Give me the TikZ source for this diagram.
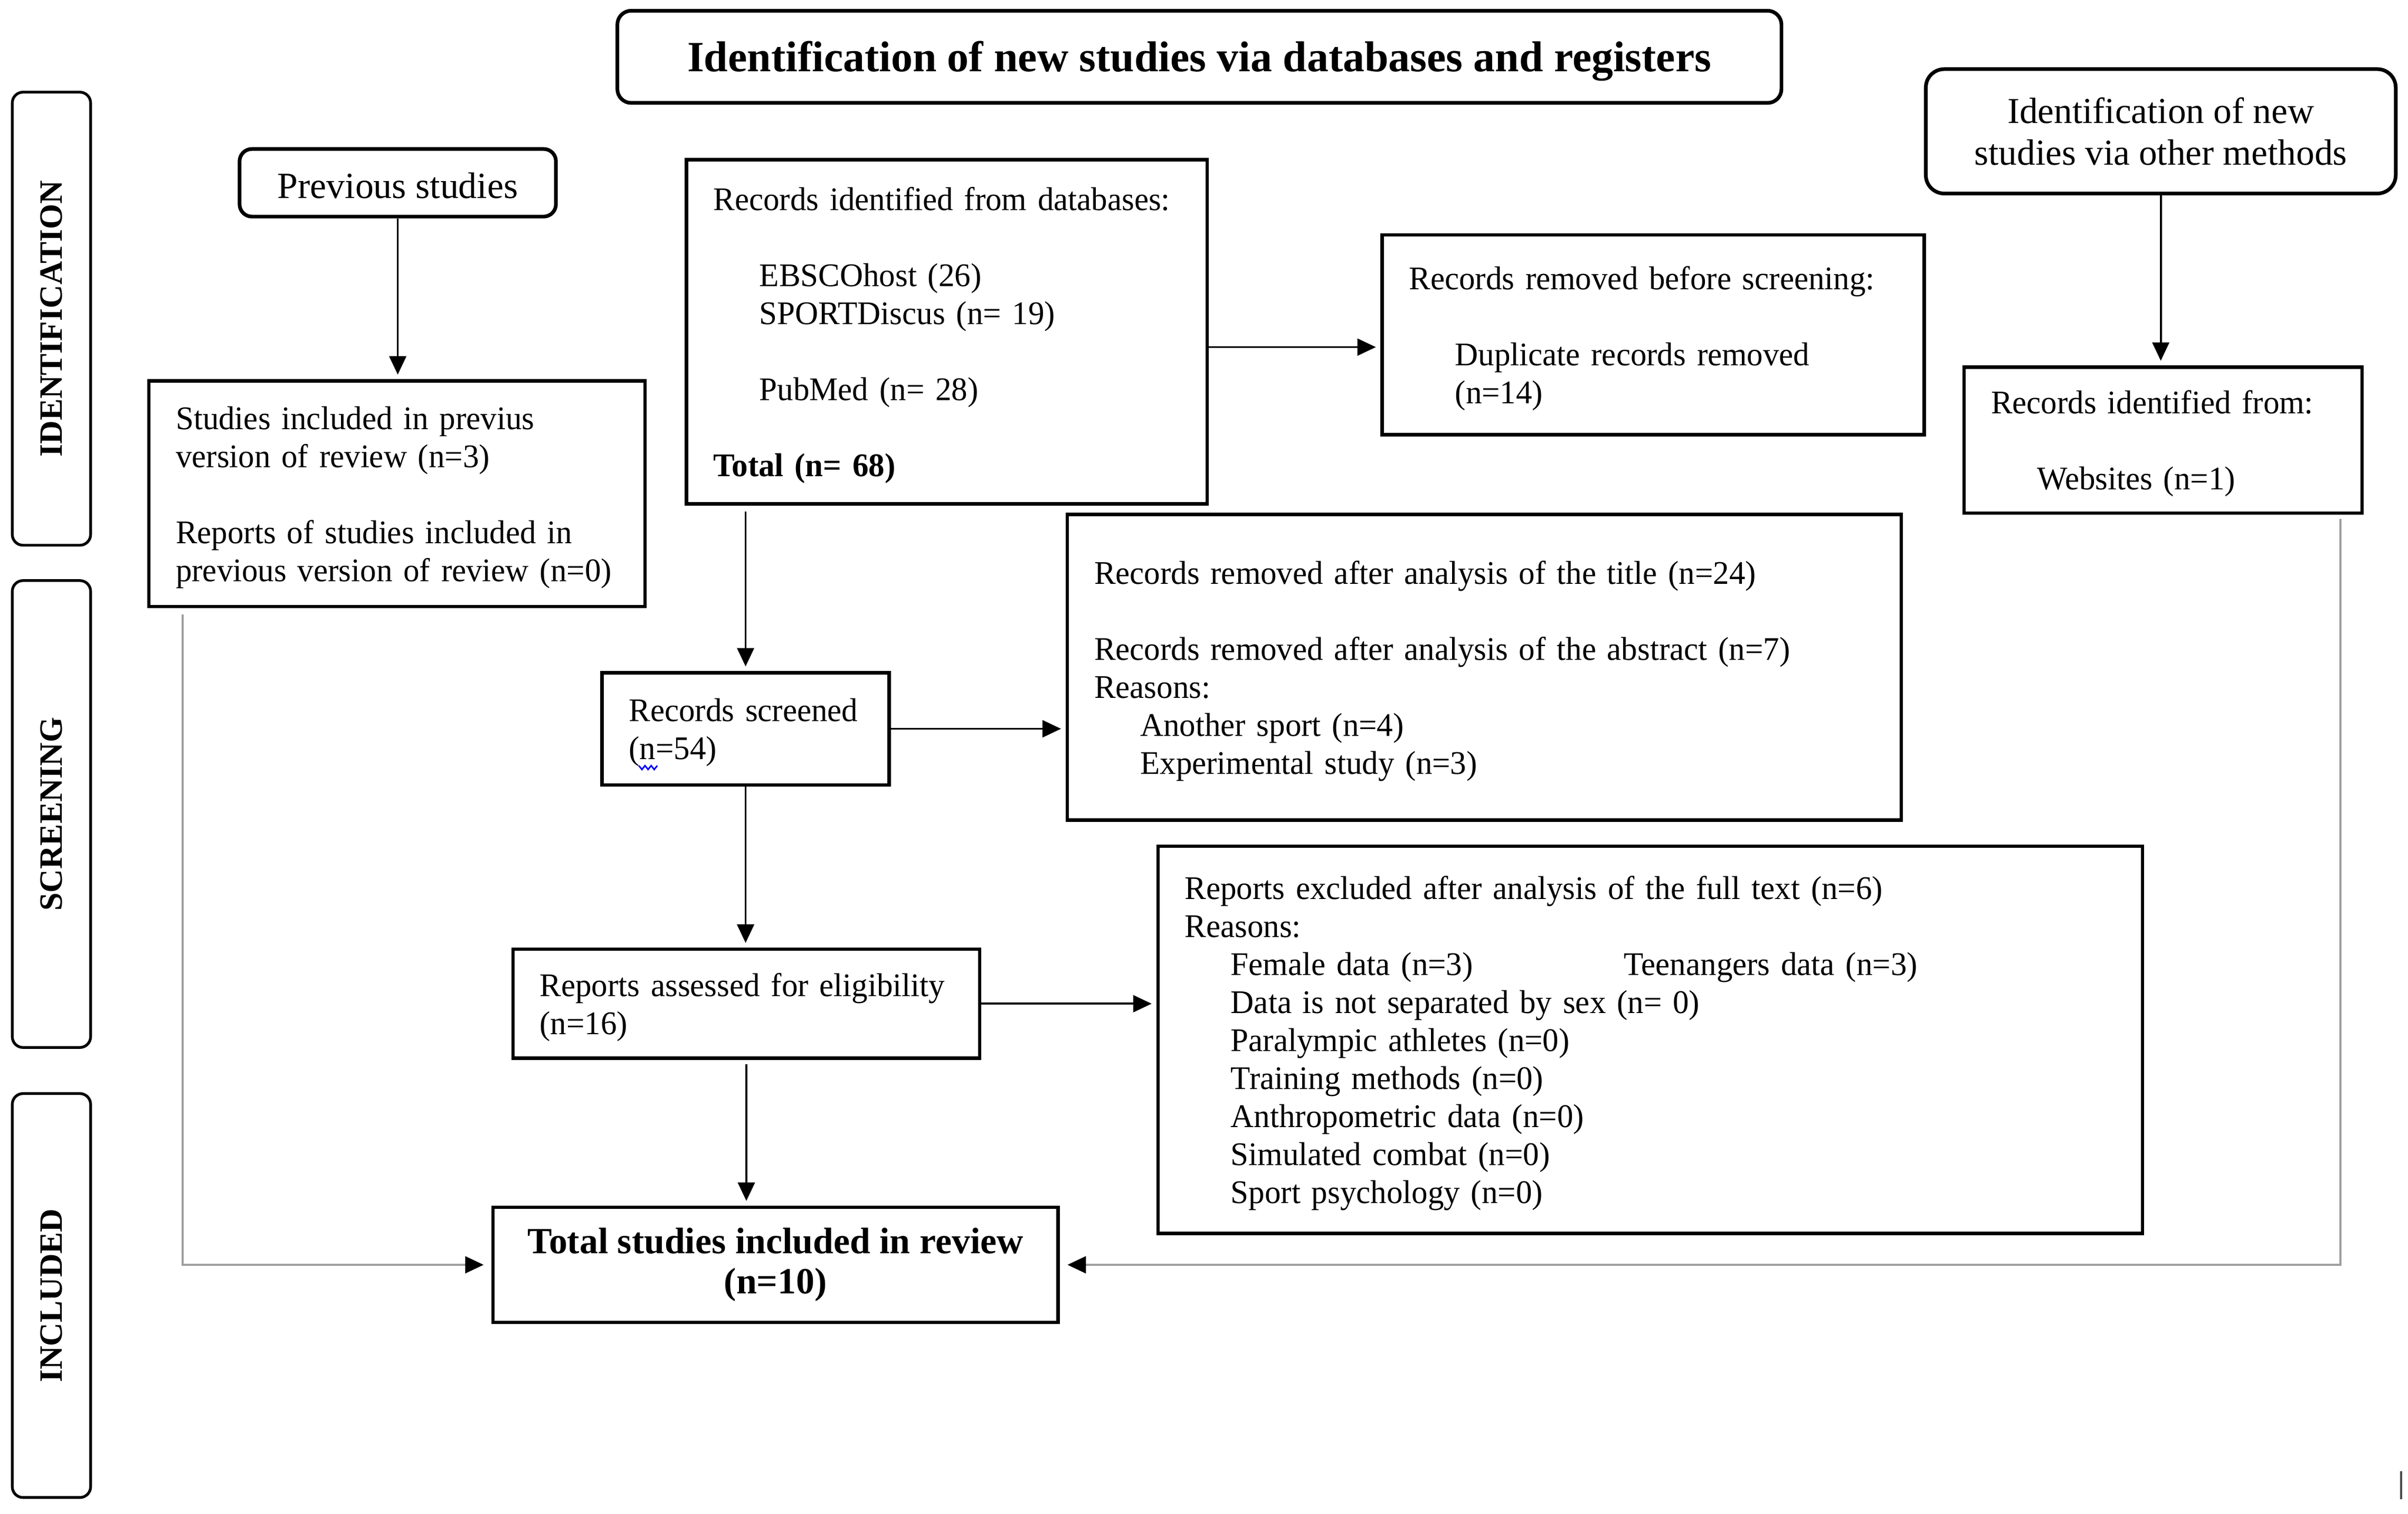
\documentclass[tikz,border=0pt]{standalone}
\usepackage{fontspec}
\setmainfont{Liberation Serif}
\newfontfamily\bodyfam{Liberation Serif}[FakeStretch=0.975]
\usetikzlibrary{arrows.meta,calc}
\newcommand\bodyfont{\bodyfam\fontsize{21.5}{24.75}\selectfont}
\newcommand\oneline[1]{\mbox{#1}}
\newcommand\ind{\hspace*{30pt}}
\begin{document}
\begin{tikzpicture}[x=1pt,y=-1pt,
  tshift/.style={execute at begin node={\rule{0pt}{#1}}},
  box/.style={draw, line width=2.2pt, rectangle, inner xsep=17.5pt, inner ysep=0pt, align=left, font=\bodyfont, tshift=19.7pt},
  rbox/.style={draw, line width=2.4pt, rounded corners=9pt, align=center, inner sep=0pt},
  phase/.style={draw, line width=1.8pt, rounded corners=7pt, rotate=90, font=\bfseries\fontsize{21.2}{21.2}\selectfont, minimum height=51pt, inner sep=0pt},
  arr/.style={line width=1.3pt, -{Triangle[length=12pt,width=11pt]}, shorten >=3pt},
  garr/.style={draw=gray!75, line width=1.3pt, -{Triangle[length=12pt,width=11pt,color=black]}, shorten >=5pt}
]
\fill[white] (0,0) rectangle (1568,985.7);
\useasboundingbox (0,0) rectangle (1568,985.7);

% title and side boxes
\node[rbox, minimum width=758pt, minimum height=60pt, font=\bfseries\fontsize{28.1}{30}\selectfont, tshift=25.4pt] (title) at (781,37) {Identification of new studies via databases and registers};

\node[phase, minimum width=295pt] (pid) at (33.5,207.5) {IDENTIFICATION};
\node[phase, minimum width=304pt] (psc) at (33.5,530) {SCREENING};
\node[phase, minimum width=263pt] (pin) at (33.5,843.5) {INCLUDED};

\node[rbox, rounded corners=8pt, minimum width=206pt, minimum height=44pt, font=\fontsize{24}{26}\selectfont, tshift=20.6pt] (prev) at (259,119) {Previous studies};

\node[rbox, rounded corners=12pt, minimum width=306pt, minimum height=81pt, font=\fontsize{23.8}{27}\selectfont, tshift=18.4pt] (other) at (1407,85.5) {Identification of new\\studies via other methods};

% content boxes
\node[box, text width=304pt, minimum height=224pt] (db) at (616.5,216) {\oneline{Records identified from databases:}\\[24.75pt]\oneline{\ind EBSCOhost (26)}\\\oneline{\ind SPORTDiscus (n= 19)}\\[24.75pt]\oneline{\ind PubMed (n= 28)}\\[24.75pt]\oneline{\textbf{Total (n= 68)}}};

\node[box, text width=318pt, minimum height=130pt] (rb) at (1076.5,218) {\oneline{Records removed before screening:}\\[24.75pt]\oneline{\ind Duplicate records removed}\\\oneline{\ind (n=14)}};

\node[box, text width=288pt, minimum height=147pt] (studies) at (258.5,321.5) {\oneline{Studies included in previus}\\\oneline{version of review (n=3)}\\[24.75pt]\oneline{Reports of studies included in}\\\oneline{previous version of review (n=0)}};

\node[box, text width=224pt, minimum height=95pt] (web) at (1408.5,286.5) {\oneline{Records identified from:}\\[24.75pt]\oneline{\ind Websites (n=1)}};

\node[box, text width=152pt, minimum height=73pt] (scr) at (485.5,474.5) {\oneline{Records screened}\\\oneline{(n=54)}};

\node[box, text width=508pt, minimum height=199pt] (ra) at (966.5,434.5) {\oneline{Records removed after analysis of the title (n=24)}\\[24.75pt]\oneline{Records removed after analysis of the abstract (n=7)}\\\oneline{Reasons:}\\\oneline{\ind Another sport (n=4)}\\\oneline{\ind Experimental study (n=3)}};

\node[box, text width=269pt, minimum height=71pt] (ass) at (486,653.5) {\oneline{Reports assessed for eligibility}\\\oneline{(n=16)}};

\node[box, text width=606pt, minimum height=252pt] (ex) at (1074.5,677) {\oneline{Reports excluded after analysis of the full text (n=6)}\\\oneline{Reasons:}\\\oneline{\ind\makebox[256pt][l]{Female data (n=3)}Teenangers data (n=3)}\\\oneline{\ind Data is not separated by sex (n= 0)}\\\oneline{\ind Paralympic athletes (n=0)}\\\oneline{\ind Training methods (n=0)}\\\oneline{\ind Anthropometric data (n=0)}\\\oneline{\ind Simulated combat (n=0)}\\\oneline{\ind Sport psychology (n=0)}};

\node[box, inner xsep=0pt, align=center, minimum width=368pt, minimum height=75pt, font=\bfseries\fontsize{24}{26}\selectfont, tshift=20.5pt] (tot) at (505,823.5) {Total studies included in review\\(n=10)};

% connectors
\coordinate (ya) at (0,226);
\draw[arr] (db.east |- ya) -- (rb.west |- ya);
\draw[arr] (prev.south) -- (prev.south |- studies.north);
\draw[arr] (other.south) -- (other.south |- web.north);
\coordinate (dbs) at (485.5,333);
\draw[arr] (dbs) -- (dbs |- scr.north);
\draw[arr] (scr.east) -- (scr.east -| ra.west);
\draw[arr] (scr.south) -- (scr.south |- ass.north);
\draw[arr] (ass.east) -- (ass.east -| ex.west);
\coordinate (ast) at (486,693);
\draw[arr] (ast) -- (ast |- tot.north);
\coordinate (ls) at (119,400);
\draw[garr] (ls) -- (ls |- tot.west) -- (tot.west);
\coordinate (rs) at (1524,338);
\draw[garr] (rs) -- (rs |- tot.east) -- (tot.east);

% spell-check squiggle and stray mark
\draw[blue, line width=1pt] (416,498.5) -- (418,501) -- (420,498.5) -- (422,501) -- (424,498.5) -- (426,501) -- (428,498.5);
\draw[gray!60!black, line width=1.4pt] (1563.6,958) -- (1563.6,976);
\end{tikzpicture}
\end{document}
